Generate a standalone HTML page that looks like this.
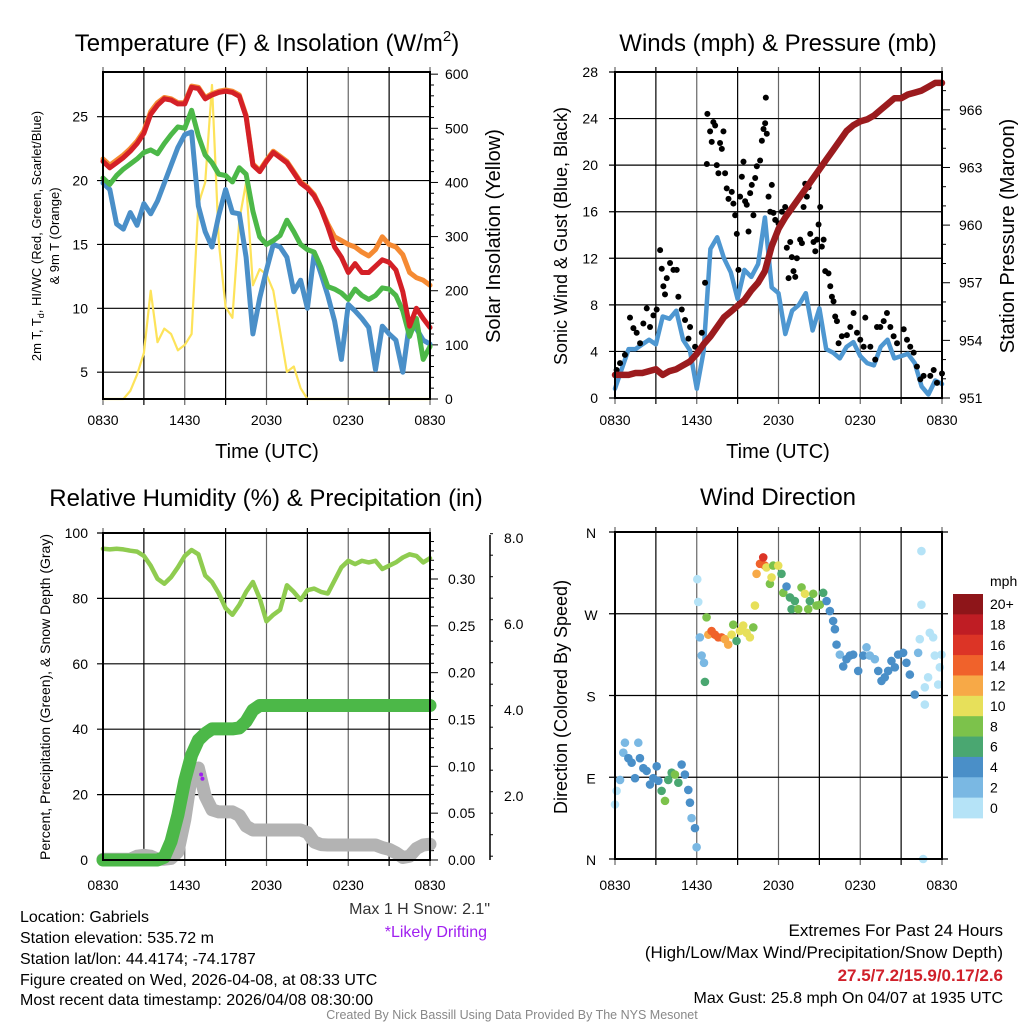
<!DOCTYPE html>
<html><head><meta charset="utf-8">
<style>
html,body{margin:0;padding:0;background:#fff;}
svg{display:block;font-family:"Liberation Sans",Arial,sans-serif;}
</style></head>
<body>
<svg id="fig" width="1024" height="1024" viewBox="0 0 1024 1024" xmlns="http://www.w3.org/2000/svg">
<rect width="1024" height="1024" fill="#fff"/>
<g id="p1"></g>
<g id="p2"></g>
<g id="p3"></g>
<g id="p4"></g>

<text x="267" y="51" font-size="24" text-anchor="middle">Temperature (F) &amp; Insolation (W/m<tspan font-size="15" dy="-10">2</tspan><tspan dy="10">)</tspan></text>
<text x="778" y="51" font-size="24" text-anchor="middle">Winds (mph) &amp; Pressure (mb)</text>
<text x="266" y="506" font-size="24" text-anchor="middle">Relative Humidity (%) &amp; Precipitation (in)</text>
<text x="778" y="505" font-size="24" text-anchor="middle">Wind Direction</text>

<text x="267" y="458" font-size="20" text-anchor="middle">Time (UTC)</text>
<text x="778" y="458" font-size="20" text-anchor="middle">Time (UTC)</text>

<text transform="translate(41,236) rotate(-90)" font-size="13" text-anchor="middle">2m T, T<tspan font-size="9" dy="3">d</tspan><tspan dy="-3">, HI/WC (Red, Green, Scarlet/Blue)</tspan></text>
<text transform="translate(59,236) rotate(-90)" font-size="13" text-anchor="middle">&amp; 9m T (Orange)</text>
<text transform="translate(500,236) rotate(-90)" font-size="20" text-anchor="middle">Solar Insolation (Yellow)</text>
<text transform="translate(567,236) rotate(-90)" font-size="18" text-anchor="middle">Sonic Wind &amp; Gust (Blue, Black)</text>
<text transform="translate(1014,236) rotate(-90)" font-size="20" text-anchor="middle">Station Pressure (Maroon)</text>
<text transform="translate(50,697) rotate(-90)" font-size="14" text-anchor="middle">Percent, Precipitation (Green), &amp; Snow Depth (Gray)</text>
<text transform="translate(567,697) rotate(-90)" font-size="18" text-anchor="middle">Direction (Colored By Speed)</text>

<text x="490" y="914" font-size="16" text-anchor="end" fill="#333">Max 1 H Snow: 2.1"</text>
<text x="487" y="937" font-size="16" text-anchor="end" fill="#a020f0">*Likely Drifting</text>

<g font-size="16">
<text x="20" y="922">Location: Gabriels</text>
<text x="20" y="943">Station elevation: 535.72 m</text>
<text x="20" y="964">Station lat/lon: 44.4174; -74.1787</text>
<text x="20" y="985">Figure created on Wed, 2026-04-08, at 08:33 UTC</text>
<text x="20" y="1005">Most recent data timestamp: 2026/04/08 08:30:00</text>
</g>
<g font-size="17" text-anchor="end">
<text x="1003" y="936">Extremes For Past 24 Hours</text>
<text x="1003" y="958">(High/Low/Max Wind/Precipitation/Snow Depth)</text>
<text x="1003" y="981" fill="#d0202a" font-weight="bold">27.5/7.2/15.9/0.17/2.6</text>
<text x="1003" y="1003" font-size="16">Max Gust: 25.8 mph On 04/07 at 1935 UTC</text>
</g>
<text x="512" y="1019" font-size="12.5" fill="#888" text-anchor="middle">Created By Nick Bassill Using Data Provided By The NYS Mesonet</text>
</svg>
<script>
// ---------- data ----------
const timeLabels = ["0830","1430","2030","0230","0830"];
const redT = [21.5,21.0,21.4,21.8,22.3,22.9,23.7,25.2,25.9,26.4,26.3,26.0,26.0,27.3,27.2,26.4,26.7,26.9,27.0,26.9,26.6,25.0,21.2,20.7,21.5,22.2,21.8,21.4,20.6,19.8,19.4,18.8,17.8,16.4,14.8,14.0,12.8,13.5,12.8,12.8,13.3,13.8,13.6,13.0,11.3,8.6,10.0,9.2,8.5];
const orangeT = [21.7,21.2,21.6,22.0,22.5,23.1,23.9,25.4,26.1,26.5,26.4,26.1,26.1,27.4,27.3,26.5,26.8,27.0,27.1,27.0,26.7,25.1,21.3,20.8,21.6,22.3,21.9,21.5,20.7,19.9,19.5,18.9,17.8,16.6,15.6,15.3,15.0,14.8,14.4,14.1,14.6,15.6,15.0,14.8,14.2,12.8,12.4,12.2,11.8];
const greenT = [20.2,19.7,20.4,20.9,21.3,21.7,22.2,22.4,22.1,22.9,23.6,24.2,24.1,25.5,23.5,22.0,21.4,20.5,20.4,19.9,21.0,20.5,17.6,15.6,15.0,15.3,15.7,16.9,16.0,15.0,14.6,14.4,13.2,11.7,11.5,11.2,10.7,11.5,11.0,10.7,11.0,11.6,11.5,11.0,9.8,7.8,9.2,6.0,7.0];
const blueTd = [19.8,19.3,16.6,16.2,17.5,16.5,18.2,17.4,18.4,19.8,21.2,22.6,23.6,23.8,18.0,16.0,14.8,17.3,19.3,17.5,17.4,14.0,8.0,10.8,13.0,15.0,14.8,14.0,11.3,12.2,10.0,14.3,12.7,11.0,9.0,6.0,10.3,9.8,9.2,8.5,5.2,8.6,8.0,7.5,5.0,8.9,8.4,7.5,7.2];
const solar = [0,0,0,0,15,45,85,200,105,130,120,90,100,120,360,400,580,290,170,150,330,400,210,240,230,200,125,50,60,20,0,0,0,0,0,0,0,0,0,0,0,0,0,0,0,0,0,0,0];
const p1LeftTicks = [5,10,15,20,25];
const p1RightTicks = [0,100,200,300,400,500,600];

const windSpd = [0.8,2.5,4.2,4.2,4.6,5.0,4.6,7.0,6.8,7.5,5.0,4.1,0.8,4.0,12.8,13.8,12.0,10.8,8.5,11.0,10.4,11.5,15.5,9.5,9.0,5.5,7.5,8.0,9.0,5.8,7.7,4.2,3.9,3.4,4.4,4.8,3.6,3.0,2.8,4.4,5.0,3.4,3.6,3.8,3.0,1.0,0.3,1.5,1.2];
const pressure = [952.2,952.2,952.2,952.3,952.3,952.4,952.5,952.2,952.4,952.5,952.7,952.9,953.3,953.8,954.2,954.7,955.2,955.5,955.8,956.1,956.6,957.0,957.6,958.9,959.8,960.4,960.9,961.4,961.9,962.4,962.9,963.4,963.9,964.4,964.9,965.2,965.4,965.5,965.7,966.0,966.3,966.6,966.6,966.8,966.9,967.0,967.2,967.4,967.4];
const gustHour = [0.12,0.37,0.73,1.10,1.35,1.59,1.84,2.08,2.33,2.57,2.82,3.06,3.31,3.43,3.55,3.67,3.80,4.04,4.29,4.53,4.65,4.90,5.14,5.39,5.51,5.88,6.12,6.37,6.61,6.74,6.78,6.98,7.10,7.22,7.35,7.47,7.59,7.71,7.84,7.96,8.08,8.20,8.33,8.57,8.69,8.82,8.94,9.06,9.18,9.31,9.43,9.55,9.67,9.80,9.92,10.04,10.16,10.29,10.41,10.65,10.78,10.90,11.02,11.07,11.14,11.27,11.39,11.51,11.63,11.76,12.00,12.25,12.49,12.61,12.74,12.86,12.98,13.10,13.23,13.35,13.59,13.72,13.84,13.96,14.08,14.21,14.33,14.57,14.70,14.82,14.94,15.06,15.18,15.31,15.43,15.67,15.80,15.92,16.04,16.16,16.29,16.41,16.65,17.02,17.27,17.51,17.76,18.00,18.25,18.37,18.74,19.10,19.23,19.47,19.72,19.96,20.21,20.45,20.70,21.19,21.43,21.67,21.92,22.16,22.41,22.65,23.14,23.39,23.63,24.0];
const gustMph = [2.4,3.0,3.7,6.9,6.0,5.6,4.7,6.4,7.7,6.1,7.1,7.6,12.7,11.1,9.6,8.9,10.3,11.6,11.0,11.0,8.7,7.6,6.7,5.1,6.1,4.4,4.1,5.6,9.9,20.1,24.4,22.9,22.0,23.7,23.4,20.0,19.3,21.9,21.4,22.9,19.3,18.0,17.1,17.7,16.7,15.7,14.1,11.0,17.3,19.0,20.3,16.9,16.6,14.3,17.6,18.3,15.7,18.9,19.9,20.4,22.1,23.1,23.6,25.8,22.7,17.3,16.0,18.3,15.9,15.3,15.0,16.0,16.4,12.9,10.3,13.4,12.1,10.9,10.4,12.0,13.6,13.3,16.4,18.4,17.3,18.1,14.1,13.4,12.6,13.6,14.9,16.4,13.0,13.6,10.9,10.7,9.6,8.7,8.3,7.0,6.6,4.7,5.3,5.4,6.1,7.3,5.6,5.0,4.4,6.9,4.4,3.3,6.1,6.1,6.6,7.3,6.1,5.3,4.7,5.9,5.0,4.4,3.9,2.7,1.6,1.9,1.9,2.4,1.3,2.1];
const p2LeftTicks = [0,4,8,12,16,20,24,28];
const p2RightTicks = [951,954,957,960,963,966];

const rh = [95.2,95.0,95.2,95.0,94.6,94.3,93.0,90.0,86.0,84.5,86.5,89.5,93.0,94.8,93.5,87.0,85.0,81.5,77.0,75.0,78.0,82.0,85.0,80.0,73.0,75.0,76.5,84.0,82.0,79.5,82.5,83.0,82.0,81.5,85.5,89.5,91.5,90.5,91.5,91.0,91.5,89.0,90.0,91.0,92.5,93.5,93.0,91.0,92.3];
const precip = [0,0,0,0,0,0,0,0,0,0.003,0.02,0.048,0.085,0.112,0.128,0.135,0.140,0.140,0.140,0.140,0.141,0.148,0.160,0.165,0.165,0.165,0.165,0.165,0.165,0.165,0.165,0.165,0.165,0.165,0.165,0.165,0.165,0.165,0.165,0.165,0.165,0.165,0.165,0.165,0.165,0.165,0.165,0.165,0.165];
const snowDepth = [0.53,0.53,0.53,0.53,0.53,0.6,0.62,0.6,0.53,0.53,0.55,0.7,1.45,2.5,2.65,2.0,1.68,1.63,1.63,1.63,1.55,1.3,1.21,1.21,1.21,1.21,1.21,1.21,1.21,1.21,1.15,0.93,0.87,0.86,0.86,0.86,0.86,0.86,0.86,0.86,0.86,0.8,0.76,0.68,0.57,0.6,0.78,0.86,0.88];
const driftHour = [7.20,7.30];
const driftSnow = [2.5,2.4];
const p3LeftTicks = [0,20,40,60,80,100];
const p3PrecipTicks = [0.00,0.05,0.10,0.15,0.20,0.25,0.30];
const p3SnowTicks = [2.0,4.0,6.0,8.0];

const dirHour = [0,0.12,0.37,0.61,0.73,0.98,1.22,1.47,1.71,1.83,2.08,2.32,2.57,2.81,3.06,3.18,3.42,3.67,3.91,4.16,4.40,4.65,4.89,5.13,5.38,5.50,5.62,5.87,5.99,6.04,6.11,6.23,6.36,6.53,6.60,6.72,6.85,7.09,7.33,7.58,7.82,8.07,8.31,8.56,8.68,8.92,9.17,9.41,9.66,9.90,10.15,10.27,10.39,10.64,10.88,11.00,11.12,11.37,11.49,11.61,11.98,12.22,12.35,12.59,12.84,12.96,13.20,13.45,13.69,13.94,14.18,14.30,14.55,14.79,15.04,15.28,15.53,15.77,16.01,16.14,16.26,16.50,16.75,16.99,17.24,17.48,17.85,18.22,18.46,18.70,19.07,19.32,19.56,19.80,20.05,20.29,20.54,20.78,21.15,21.39,21.64,22.00,22.25,22.37,22.49,22.49,22.74,22.74,22.98,23.10,23.35,23.47,23.72,23.84,23.96,22.62];
const dirDeg = [60,75,87,117,128,111,106,89,128,111,100,97,82,89,102,86,75,64,87,95,93,84,104,93,76,62,45,34,13,308,283,244,224,216,195,266,247,251,247,244,244,242,236,247,258,240,251,257,249,244,255,279,314,325,332,323,321,303,310,323,323,314,293,300,288,275,284,275,299,292,275,284,292,279,280,293,284,273,262,253,236,225,212,220,224,225,207,224,233,224,220,207,196,200,207,218,211,225,227,216,203,181,227,242,339,280,170,189,200,249,244,224,192,211,225,0];
const dirSpeed = [1,1,3,3,3,4.5,5,5,3,5,5,5,5,5,5,5,7,9,7,7,9,7,5,5,5,5,3,5,3,1,1,3,3,3,7,9,13,15,15,15,15,13,13,11,9,7,11,11,11,11,9,11,13,15,17,15,11,9,11,9,11,7,9,5,7,7,7,9,9,11,9,7,9,9,9,7,5,5,5,5,5,3,5,5,5,5,5,5,3,3,3,5,5,5,5,5,5,5,5,5,5,5,3,1,1,1,1,1,1,1,1,1,1,1,1,1];
const dirTicks = ["N","E","S","W","N"];
const speedBinLabels = ["20+","18","16","14","12","10","8","6","4","2","0"];
const speedColors = ["#8e1519","#bf1d24","#dc3426","#f0622b","#f7a947","#e7e05a","#7cc24b","#4aa771","#4a8fc8","#7ab8e3","#b5e3f7"];

// ---------- helpers ----------
const NS = "http://www.w3.org/2000/svg";
function mk(parent, tag, attrs){
  const e = document.createElementNS(NS, tag);
  for (const k in attrs) e.setAttribute(k, attrs[k]);
  parent.appendChild(e);
  return e;
}
function lin(d0,d1,r0,r1){ return v => r0 + (v-d0)/(d1-d0)*(r1-r0); }
function poly(parent, xs, ys, color, w, name){
  let pts = xs.map((x,i)=>x.toFixed(1)+","+ys[i].toFixed(1)).join(" ");
  const e = mk(parent,"polyline",{points:pts,fill:"none",stroke:color,"stroke-width":w,"stroke-linejoin":"round","stroke-linecap":"round"});
  
  
  return e;
}
function frame(g, x0,x1,y0,y1, name){
  // grid
  for (let k=0;k<=8;k++){
    const x = x0 + k*(x1-x0)/8;
    const l = mk(g,"line",{x1:x,x2:x,y1:y0-5,y2:y1+6,stroke:(k%2? "#000":"#666"),"stroke-width":1.2});
    
    
  }
}
function hgrid(g, x0,x1,y,name){
  const l = mk(g,"line",{x1:x0-6,x2:x1,y1:y,y2:y,stroke:"#000","stroke-width":1.2});
  
  
}
function border(g,x0,x1,y0,y1,name){
  const r = mk(g,"rect",{x:x0,y:y0,width:x1-x0,height:y1-y0,fill:"none",stroke:"#000","stroke-width":2});
  
  
}
function txt(g,x,y,s,size,anchor,name,fill){
  const t = mk(g,"text",{x:x,y:y,"font-size":size,"text-anchor":anchor||"start",fill:fill||"#000"});
  t.textContent = s;
  
  
  return t;
}
function xLabels(g,x0,x1,y,name){
  timeLabels.forEach((s,i)=>{
    txt(g, x0 + i*(x1-x0)/4, y, s, 14, "middle", name+'-x-tick-label');
  });
}
const halfHours = redT.map((_,i)=>i*0.5);

// ---------- Panel 1 ----------
(function(){
  const g = document.getElementById("p1");
  const x0=103,x1=430,y0=72,y1=399;
  const X = lin(0,24,x0,x1), Y = lin(2.9,28.5,y1,y0), YS = lin(0,604,y1,y0);
  frame(g,x0,x1,y0,y1,'p1');
  p1LeftTicks.forEach(v=>{ hgrid(g,x0,x1,Y(v),'p1'); txt(g,x0-15,Y(v)+5,String(v),14,"end",'p1-left-tick-label'); });
  for (let v=0; v<=600; v+=20){
    const big = v%100===0;
    const l = mk(g,"line",{x1:x1,x2:x1+(big?8:4),y1:YS(v),y2:YS(v),stroke:"#000","stroke-width":1});
    
    
  }
  p1RightTicks.forEach(v=>txt(g,x1+15,YS(v)+5,String(v),14,"start",'p1-right-tick-label'));
  const xs = halfHours.map(X);
  poly(g, xs, solar.map(YS), "#fde35a", 2.2, 'solar-insolation-line');
  poly(g, xs, blueTd.map(Y), "#4a8fc8", 5, 'dewpoint-line');
  poly(g, xs, greenT.map(Y), "#4cb848", 5, 'heat-index-windchill-line');
  poly(g, xs, orangeT.map(Y), "#f58a33", 5, 'temp-9m-line');
  poly(g, xs, redT.map(Y), "#d42027", 5, 'temp-2m-line');
  border(g,x0,x1,y0,y1,'p1');
  xLabels(g,x0,x1,425,'p1');
})();

// ---------- Panel 2 ----------
(function(){
  const g = document.getElementById("p2");
  const x0=615,x1=942,y0=72,y1=398;
  const X = lin(0,24,x0,x1), Y = lin(0,28,y1,y0), YP = lin(951,967.97,y1,y0);
  frame(g,x0,x1,y0,y1,'p2');
  p2LeftTicks.forEach(v=>{ hgrid(g,x0,x1,Y(v),'p2'); txt(g,x0-17,Y(v)+5,String(v),14,"end",'p2-left-tick-label'); });
  for (let v=951; v<=967.9; v+=1){
    const big = (v-951)%3===0;
    const l = mk(g,"line",{x1:x1,x2:x1+(big?8:4),y1:YP(v),y2:YP(v),stroke:"#000","stroke-width":1});
    
    
  }
  p2RightTicks.forEach(v=>txt(g,x1+17,YP(v)+5,String(v),14,"start",'p2-right-tick-label'));
  const xs = halfHours.map(X);
  poly(g, xs, windSpd.map(Y), "#4e97d1", 4.5, 'sustained-wind-line');
  gustHour.forEach((h,i)=>{
    const c = mk(g,"circle",{cx:X(h),cy:Y(gustMph[i]),r:3,fill:"#000"});
    
    
  });
  poly(g, xs, pressure.map(YP), "#9b1b1e", 6.5, 'station-pressure-line');
  border(g,x0,x1,y0,y1,'p2');
  xLabels(g,x0,x1,425,'p2');
})();

// ---------- Panel 3 ----------
(function(){
  const g = document.getElementById("p3");
  const x0=103,x1=430,y0=533,y1=860;
  const X = lin(0,24,x0,x1), Y = lin(0,100,y1,y0), YP = lin(0,0.30,y1,579), YS = lin(0,2,882,796);
  frame(g,x0,x1,y0,y1,'p3');
  p3LeftTicks.forEach(v=>{ hgrid(g,x0,x1,Y(v),'p3'); txt(g,x0-15,Y(v)+5,String(v),14,"end",'p3-left-tick-label'); });
  for (let v=0; v<=0.345; v+=0.01){
    const big = Math.round(v*100)%5===0;
    const l = mk(g,"line",{x1:x1,x2:x1+(big?8:4),y1:YP(v),y2:YP(v),stroke:"#000","stroke-width":1});
    
    
  }
  p3PrecipTicks.forEach(v=>txt(g,x1+18,YP(v)+5,v.toFixed(2),14,"start",'p3-precip-tick-label'));
  const ax = mk(g,"line",{x1:490,x2:490,y1:535,y2:860,stroke:"#000","stroke-width":1.5});
  
  
  for (let v=0.6; v<=8.1; v+=0.5){
    const big = Math.abs(v/2-Math.round(v/2))<0.01;
    const l = mk(g,"line",{x1:490,x2:490+(big?6:3),y1:YS(v),y2:YS(v),stroke:"#000","stroke-width":1});
    
    
  }
  p3SnowTicks.forEach(v=>txt(g,504,YS(v)+5,v.toFixed(1),14,"start",'p3-snow-tick-label'));
  const xs = halfHours.map(X);
  poly(g, xs, rh.map(Y), "#8fcc50", 4.5, 'relative-humidity-line');
  poly(g, xs, snowDepth.map(YS), "#b3b3b3", 13, 'snow-depth-line');
  poly(g, xs, precip.map(YP), "#4cb848", 13, 'precipitation-line');
  driftHour.forEach((h,i)=>{
    const c = mk(g,"circle",{cx:X(h),cy:YS(driftSnow[i]),r:2,fill:"#a020f0"});
    
    
  });
  border(g,x0,x1,y0,y1,'p3');
  xLabels(g,x0,x1,890,'p3');
})();

// ---------- Panel 4 ----------
(function(){
  const g = document.getElementById("p4");
  const x0=615,x1=942,y0=532,y1=859;
  const X = lin(0,24,x0,x1), Y = lin(0,360,y1,y0);
  frame(g,x0,x1,y0,y1,'p4');
  dirTicks.forEach((s,i)=>{ const v=i*90; hgrid(g,x0,x1+6,Y(v),'p4'); txt(g,591,Y(v)+6,s,14,"middle",'p4-direction-tick-label'); });
  function colorFor(s){ let b = Math.min(10, Math.floor(s/2)); return speedColors[10-b]; }
  dirHour.forEach((h,i)=>{
    const c = mk(g,"circle",{cx:X(h),cy:Y(dirDeg[i]),r:4.3,fill:colorFor(dirSpeed[i])});
    
    
  });
  border(g,x0,x1,y0,y1,'p4');
  xLabels(g,x0,x1,890,'p4');
  // colorbar
  const cb = mk(g,"g",{});
  
  
  const bh = (818-594)/11;
  speedColors.forEach((c,i)=>{
    const r = mk(cb,"rect",{x:953,y:594+i*bh,width:30,height:bh+0.4,fill:c});
    
    
    txt(cb,990,594+i*bh+bh/2+5,speedBinLabels[i],14,"start",'colorbar-label');
  });
  txt(cb,990,586,"mph",14,"start",'colorbar-title');
})();
</script>
</body></html>
